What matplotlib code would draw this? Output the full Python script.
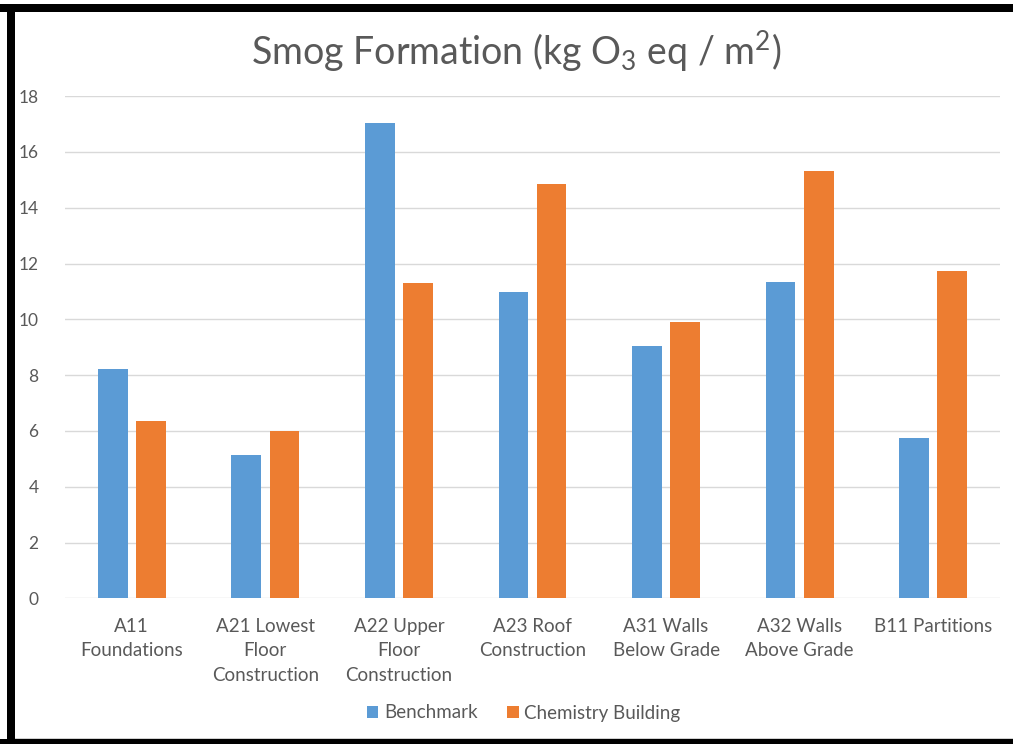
import matplotlib
matplotlib.use("Agg")
import matplotlib.pyplot as plt
from matplotlib.patches import Rectangle
import numpy as np

plt.rcParams["font.family"] = ["Lato", "DejaVu Sans"]
plt.rcParams["mathtext.default"] = "regular"

categories = [
    "A11\nFoundations",
    "A21 Lowest\nFloor\nConstruction",
    "A22 Upper\nFloor\nConstruction",
    "A23 Roof\nConstruction",
    "A31 Walls\nBelow Grade",
    "A32 Walls\nAbove Grade",
    "B11 Partitions",
]
benchmark = [8.22, 5.13, 17.05, 10.97, 9.06, 11.32, 5.73]
chemistry = [6.37, 5.98, 11.29, 14.86, 9.89, 15.30, 11.74]
series_names = ["Benchmark", "Chemistry Building"]
yticks = [0, 2, 4, 6, 8, 10, 12, 14, 16, 18]

BLUE = "#5B9BD5"
ORANGE = "#ED7D31"
GRID = "#D9D9D9"
TEXT = "#595959"

W, H = 1013, 744
fig = plt.figure(figsize=(W / 100, H / 100), dpi=100)
fig.patch.set_facecolor("white")

ax = fig.add_axes([65 / W, 1 - 598.3 / H, (1000 - 65) / W, (598.3 - 96.1) / H])
x = np.arange(len(categories))
off, bw = 0.143, 0.222
ax.bar(x - off, benchmark, bw, color=BLUE, label=series_names[0], zorder=3)
ax.bar(x + off, chemistry, bw, color=ORANGE, label=series_names[1], zorder=3)

ax.set_xlim(-0.5, len(categories) - 0.5)
ax.set_ylim(0, 18)
ax.set_yticks(yticks)
ax.set_yticklabels([str(t) for t in yticks], fontsize=12.5, color=TEXT)
ax.set_xticks(x)
ax.set_xticklabels(categories, fontsize=13.5, color=TEXT, linespacing=1.55)
ax.tick_params(axis="both", length=0)
ax.tick_params(axis="y", pad=19)
ax.tick_params(axis="x", pad=14)
ax.grid(axis="y", color=GRID, linewidth=1, zorder=0)
for s in ax.spines.values():
    s.set_visible(False)

fig.text(0.51, 1 - 51 / H, "Smog Formation (kg O$_3$ eq / m$^2$)",
         ha="center", va="center", fontsize=27, color=TEXT)

fig.legend(loc="center", bbox_to_anchor=(0.517, 1 - 713 / H), ncol=2,
           frameon=False, fontsize=13.5, labelcolor=TEXT,
           handlelength=0.6, handleheight=0.6, handletextpad=0.3,
           columnspacing=1.6)

# black frame on top, left and bottom edges
for (x0, y0, w, h) in [(0, 4, W, 8), (7, 4, 8, H), (0, 739, W, 5)]:
    fig.add_artist(Rectangle((x0 / W, 1 - (y0 + h) / H), w / W, h / H,
                             transform=fig.transFigure, color="black",
                             linewidth=0, zorder=10))
fig.add_artist(Rectangle((15 / W, 1 - 739 / H), (W - 15) / W, 1.5 / H,
                         transform=fig.transFigure, color="#D0D0D0",
                         linewidth=0, zorder=9))

fig.savefig("out.png", dpi=100, facecolor="white")
